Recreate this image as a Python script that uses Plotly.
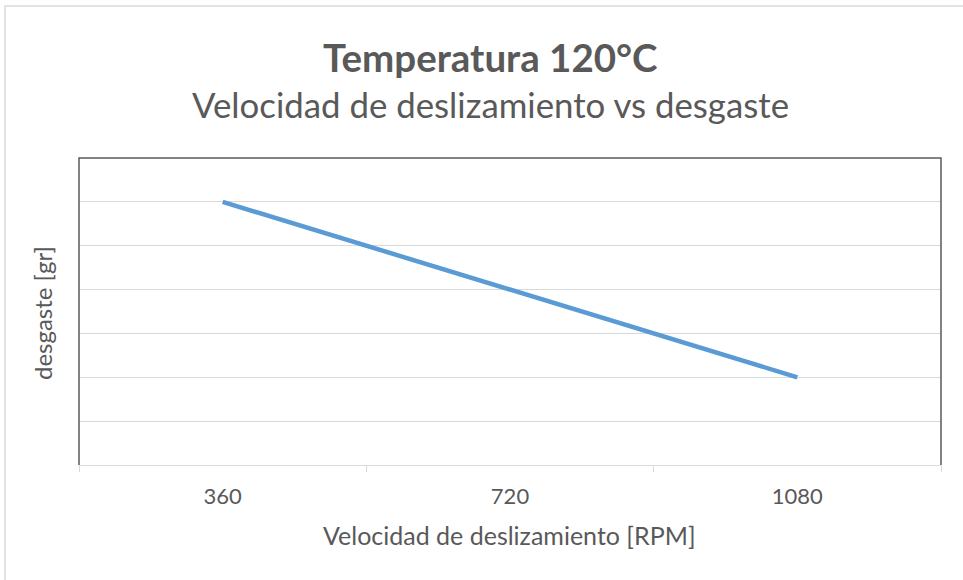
import plotly.graph_objects as go

# Sliding speed (RPM) categories and measured wear
velocidad = ["360", "720", "1080"]
desgaste = [6, 4, 2]

W, H = 963, 580
L, R, T, B = 79, 22, 158, 115
FONT = "Lato"
GRAY = "#595959"

fig = go.Figure()
fig.add_trace(go.Scatter(
    x=velocidad, y=desgaste, mode="lines",
    line=dict(color="#5b9bd5", width=4.5),
    showlegend=False, hoverinfo="x+y",
))

pw = W - L - R
ph = H - T - B

def px(x):
    return (x - L) / pw

def py(y):
    return (H - B - y) / ph

fig.update_layout(
    width=W, height=H,
    margin=dict(l=L, r=R, t=T, b=B),
    paper_bgcolor="white", plot_bgcolor="white",
    font=dict(family=FONT, color=GRAY),
    xaxis=dict(
        type="category", range=[-0.5, 2.5],
        tickson="boundaries", ticks="outside", ticklen=6,
        tickcolor="#d9d9d9", tickfont=dict(size=22, color=GRAY),
        ticklabelstandoff=12,
        showgrid=False, showline=True, linecolor="#d9d9d9", linewidth=1,
        zeroline=False,
    ),
    yaxis=dict(
        range=[0, 7], dtick=1, showticklabels=False,
        showgrid=True, gridcolor="#d9d9d9", gridwidth=1,
        zeroline=False, showline=False,
    ),
    annotations=[
        dict(text="<b>Temperatura 120°C</b>", xref="paper", yref="paper",
             x=px(490), y=py(57), xanchor="center", yanchor="middle",
             showarrow=False, font=dict(size=38.5, color=GRAY, family=FONT)),
        dict(text="Velocidad de deslizamiento vs desgaste", xref="paper",
             yref="paper", x=px(490), y=py(105), xanchor="center",
             yanchor="middle", showarrow=False,
             font=dict(size=34.8, color=GRAY, family=FONT)),
        dict(text="Velocidad de deslizamiento [RPM]", xref="paper",
             yref="paper", x=px(509), y=py(535), xanchor="center",
             yanchor="middle", showarrow=False,
             font=dict(size=25, color=GRAY, family=FONT)),
        dict(text="desgaste [gr]", xref="paper", yref="paper",
             x=px(42), y=py(313), xanchor="center", yanchor="middle",
             textangle=-90, showarrow=False,
             font=dict(size=24, color=GRAY, family=FONT)),
    ],
    shapes=[
        # plot-area frame (left, top, right)
        dict(type="path", xref="paper", yref="paper",
             path="M0,0 L0,1 L1,1 L1,0",
             line=dict(color=GRAY, width=1.5)),
        # outer chart border
        dict(type="rect", xref="paper", yref="paper",
             x0=px(5), x1=px(975), y0=py(590), y1=py(6),
             line=dict(color="#d9d9d9", width=1.5), layer="below"),
    ],
)

fig.write_html("out.html")
